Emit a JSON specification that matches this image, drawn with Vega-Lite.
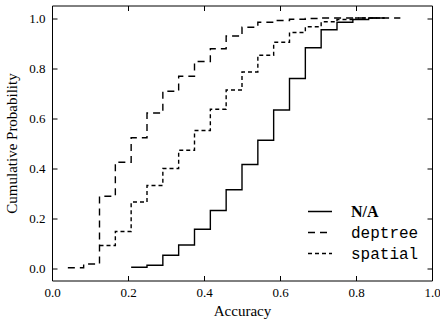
{
  "$schema": "https://vega.github.io/schema/vega-lite/v6.json",
  "width": 380,
  "height": 275,
  "autosize": {"type": "none"},
  "padding": {"left": 52, "top": 5.5, "right": 8, "bottom": 43.5},
  "background": "white",
  "config": {
    "view": {"stroke": "black", "strokeWidth": 1},
    "font": "Liberation Serif",
    "axis": {
      "grid": false,
      "domain": false,
      "tickColor": "black",
      "tickSize": -5,
      "tickWidth": 1,
      "labelFont": "Liberation Serif",
      "labelFontSize": 13,
      "labelColor": "black",
      "titleFont": "Liberation Serif",
      "titleFontSize": 15,
      "titleFontWeight": "normal",
      "titleColor": "black"
    }
  },
  "data": {
    "values": [
      {"series": "N/A", "accuracy": 0.2083, "cdf": 0.003},
      {"series": "N/A", "accuracy": 0.25, "cdf": 0.011},
      {"series": "N/A", "accuracy": 0.2917, "cdf": 0.051},
      {"series": "N/A", "accuracy": 0.3333, "cdf": 0.092},
      {"series": "N/A", "accuracy": 0.375, "cdf": 0.155},
      {"series": "N/A", "accuracy": 0.4167, "cdf": 0.23},
      {"series": "N/A", "accuracy": 0.4583, "cdf": 0.313},
      {"series": "N/A", "accuracy": 0.5, "cdf": 0.414},
      {"series": "N/A", "accuracy": 0.5417, "cdf": 0.511},
      {"series": "N/A", "accuracy": 0.5833, "cdf": 0.632},
      {"series": "N/A", "accuracy": 0.625, "cdf": 0.758},
      {"series": "N/A", "accuracy": 0.6667, "cdf": 0.881},
      {"series": "N/A", "accuracy": 0.7083, "cdf": 0.953},
      {"series": "N/A", "accuracy": 0.75, "cdf": 0.983},
      {"series": "N/A", "accuracy": 0.7917, "cdf": 0.994},
      {"series": "N/A", "accuracy": 0.8333, "cdf": 1.0},
      {"series": "N/A", "accuracy": 0.875, "cdf": 1.0},
      {"series": "deptree", "accuracy": 0.0417, "cdf": 0.001},
      {"series": "deptree", "accuracy": 0.0833, "cdf": 0.016},
      {"series": "deptree", "accuracy": 0.125, "cdf": 0.287},
      {"series": "deptree", "accuracy": 0.1667, "cdf": 0.423},
      {"series": "deptree", "accuracy": 0.2083, "cdf": 0.521},
      {"series": "deptree", "accuracy": 0.25, "cdf": 0.62},
      {"series": "deptree", "accuracy": 0.2917, "cdf": 0.707},
      {"series": "deptree", "accuracy": 0.3333, "cdf": 0.767},
      {"series": "deptree", "accuracy": 0.375, "cdf": 0.826},
      {"series": "deptree", "accuracy": 0.4167, "cdf": 0.877},
      {"series": "deptree", "accuracy": 0.4583, "cdf": 0.928},
      {"series": "deptree", "accuracy": 0.5, "cdf": 0.963},
      {"series": "deptree", "accuracy": 0.5417, "cdf": 0.983},
      {"series": "deptree", "accuracy": 0.5833, "cdf": 0.99},
      {"series": "deptree", "accuracy": 0.625, "cdf": 0.995},
      {"series": "deptree", "accuracy": 0.6667, "cdf": 0.998},
      {"series": "deptree", "accuracy": 0.7083, "cdf": 1.0},
      {"series": "deptree", "accuracy": 0.9167, "cdf": 1.0},
      {"series": "spatial", "accuracy": 0.125, "cdf": 0.09},
      {"series": "spatial", "accuracy": 0.1667, "cdf": 0.146},
      {"series": "spatial", "accuracy": 0.2083, "cdf": 0.264},
      {"series": "spatial", "accuracy": 0.25, "cdf": 0.33},
      {"series": "spatial", "accuracy": 0.2917, "cdf": 0.398},
      {"series": "spatial", "accuracy": 0.3333, "cdf": 0.471},
      {"series": "spatial", "accuracy": 0.375, "cdf": 0.55},
      {"series": "spatial", "accuracy": 0.4167, "cdf": 0.635},
      {"series": "spatial", "accuracy": 0.4583, "cdf": 0.712},
      {"series": "spatial", "accuracy": 0.5, "cdf": 0.784},
      {"series": "spatial", "accuracy": 0.5417, "cdf": 0.851},
      {"series": "spatial", "accuracy": 0.5833, "cdf": 0.903},
      {"series": "spatial", "accuracy": 0.625, "cdf": 0.942},
      {"series": "spatial", "accuracy": 0.6667, "cdf": 0.965},
      {"series": "spatial", "accuracy": 0.7083, "cdf": 0.985},
      {"series": "spatial", "accuracy": 0.75, "cdf": 0.994},
      {"series": "spatial", "accuracy": 0.7917, "cdf": 1.0},
      {"series": "spatial", "accuracy": 0.875, "cdf": 1.0}
    ]
  },
  "layer": [
    {
      "mark": {"type": "line", "interpolate": "step-after", "strokeWidth": 1.4, "color": "black"},
      "encoding": {
        "x": {
          "field": "accuracy", "type": "quantitative",
          "scale": {"domain": [0, 1], "nice": false, "zero": false},
          "axis": {"title": "Accuracy", "values": [0, 0.2, 0.4, 0.6, 0.8, 1.0], "format": ".1f", "labelPadding": 11, "titlePadding": 4, "labelFlush": false}
        },
        "y": {
          "field": "cdf", "type": "quantitative",
          "scale": {"domain": [-0.05, 1.05], "nice": false, "zero": false},
          "axis": {"title": "Cumulative Probability", "values": [0, 0.2, 0.4, 0.6, 0.8, 1.0], "format": ".1f", "labelPadding": 12, "titlePadding": 9}
        },
        "strokeDash": {
          "field": "series", "type": "nominal",
          "scale": {"domain": ["N/A", "deptree", "spatial"], "range": [[1, 0], [7, 5], [4, 3]]},
          "legend": {
            "title": null,
            "orient": "none",
            "legendX": 255,
            "legendY": 193,
            "symbolType": "stroke",
            "symbolSize": 576,
            "symbolStrokeWidth": 1.4,
            "symbolStrokeColor": "black",
            "rowPadding": 0,
            "labelOffset": 18,
            "labelFontSize": 16,
            "labelColor": "black",
            "labelFont": {"expr": "datum.label === 'N/A' ? 'Liberation Serif' : 'Liberation Mono'"},
            "labelFontWeight": {"expr": "datum.label === 'N/A' ? 'bold' : 'normal'"}
          }
        }
      }
    },
    {
      "mark": {"type": "line", "strokeOpacity": 0},
      "encoding": {
        "x": {
          "field": "accuracy", "type": "quantitative",
          "scale": {"domain": [0, 1], "nice": false, "zero": false},
          "axis": {"orient": "top", "title": null, "labels": false, "values": [0, 0.2, 0.4, 0.6, 0.8, 1.0]}
        },
        "y": {
          "field": "cdf", "type": "quantitative",
          "scale": {"domain": [-0.05, 1.05], "nice": false, "zero": false},
          "axis": {"orient": "right", "title": null, "labels": false, "values": [0, 0.2, 0.4, 0.6, 0.8, 1.0]}
        },
        "detail": {"field": "series"}
      }
    }
  ],
  "resolve": {"axis": {"x": "independent", "y": "independent"}}
}
